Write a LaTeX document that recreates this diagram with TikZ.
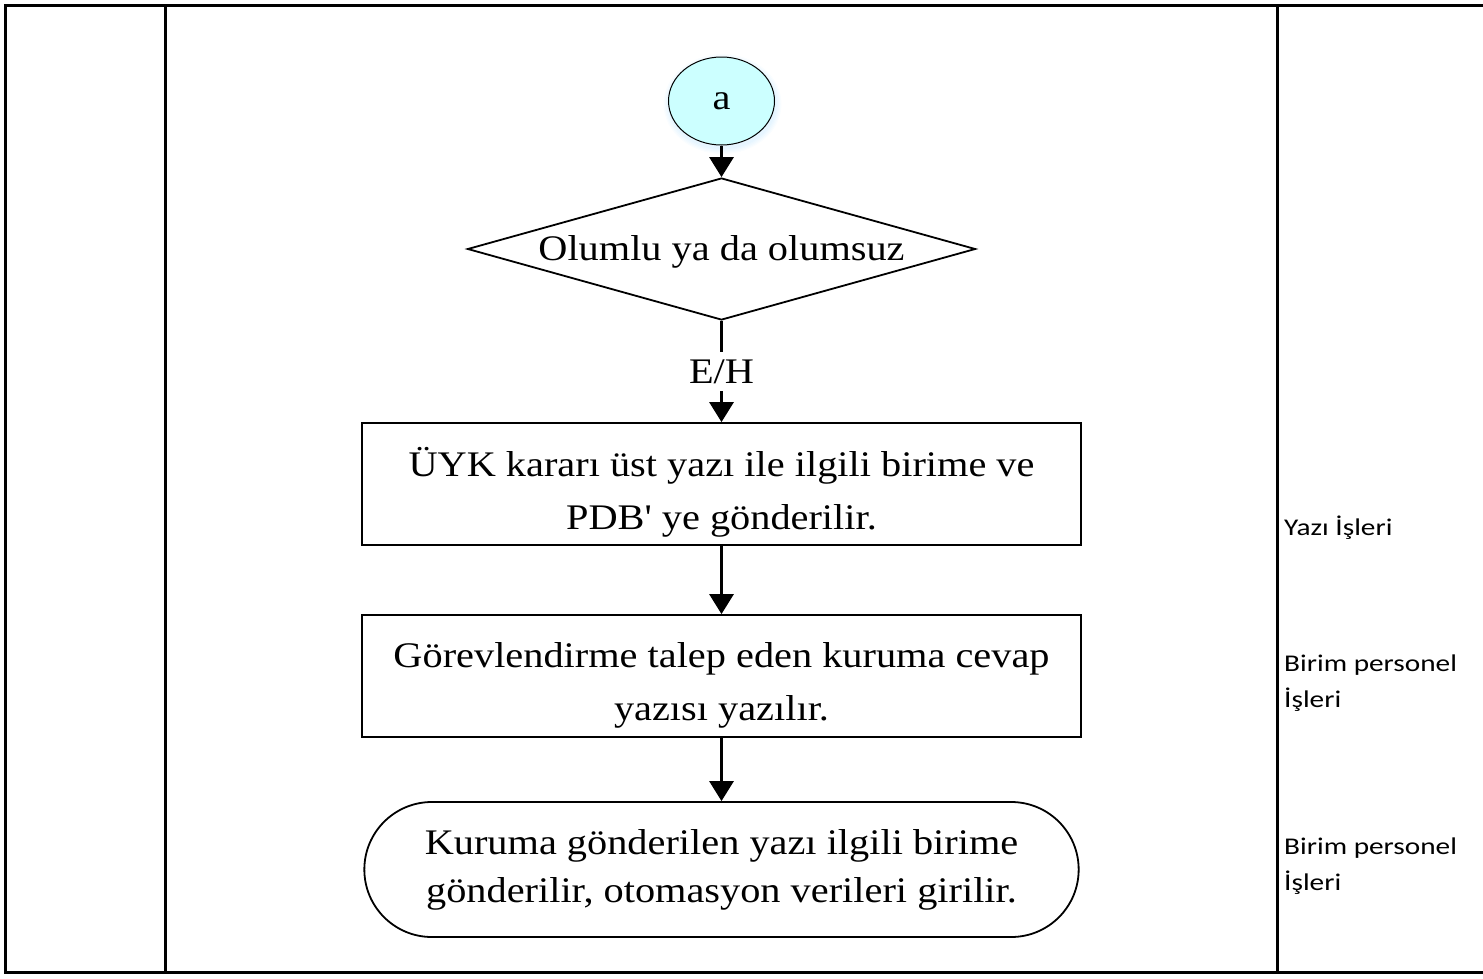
\documentclass[tikz,border=0pt]{standalone}
\usepackage{fontspec}
\setmainfont{Liberation Serif}[FakeStretch=1.12, Ligatures=TeXOff]
\newfontfamily\lanefont{Carlito}[FakeStretch=1.22]
\usetikzlibrary{arrows.meta,shapes.geometric,shapes.misc}
\definecolor{connectorfill}{HTML}{CCFFFF}
\tikzset{
  frame/.style={line width=3pt},
  flowfont/.style={font=\fontsize{36}{53}\selectfont},
  box/.style={draw, line width=1.8pt, minimum width=719pt, minimum height=122pt},
  boxtext/.style={align=center, inner sep=0pt, flowfont},
  arr/.style={line width=3pt, -{Triangle[width=24pt,length=20pt]}},
  lane/.style={anchor=north west, align=left, inner sep=0pt,
    font=\lanefont\fontsize{24}{36}\selectfont}
}
\begin{document}
\begin{tikzpicture}[x=1pt,y=-1pt]
\useasboundingbox (0,0) rectangle (1483,978);
% table frame
\draw[frame] (1483,5) -- (5,5) -- (5,972) -- (1483,972);
\draw[frame] (165,5) -- (165,972);
\draw[frame] (1277,5) -- (1277,972);
% soft glow under the connector
\foreach \k in {1,...,5}
  \fill[blue!40!cyan, opacity=0.02] (722.5,104) ellipse ({53+\k*1.2} and {44+\k*1.2});
% flow chart
\node[ellipse, draw, line width=1pt, fill=connectorfill, minimum width=106pt, minimum height=88pt,
  flowfont] (a) at (721.5,101) {a};
\node[diamond, draw, line width=1.8pt, aspect=3.58, minimum width=508pt, minimum height=142pt,
  inner sep=0pt] (d) at (721.5,249) {};
\node[flowfont, inner sep=0pt] (dt) at (721.5,252) {Olumlu ya da olumsuz};
\node[anchor=north, inner xsep=4pt, inner ysep=8pt, text height=23pt, text depth=0pt,
  flowfont] (eh) at (721.5,352) {E/H};
\node[box] (r1) at (721.5,484) {};
\node[boxtext] (r1t) at (721.5,492) {ÜYK kararı üst yazı ile ilgili birime ve\\PDB' ye gönderilir.};
\node[box] (r2) at (721.5,676) {};
\node[boxtext] (r2t) at (721.5,685) {Görevlendirme talep eden kuruma cevap\\yazısı yazılır.};
\node[box, rounded rectangle, minimum width=721pt, minimum height=135pt] (e) at (721.5,869.5) {};
\node[boxtext, font=\fontsize{36}{48}\selectfont] (et) at (721.5,870)
  {Kuruma gönderilen yazı ilgili birime\\gönderilir, otomasyon verileri girilir.};
\draw[arr] (a) -- (d);
\draw[line width=3pt] (d.south) -- (eh.north);
\draw[arr] (eh.south) -- (r1.north);
\draw[arr] (r1) -- (r2);
\draw[arr] (r2) -- (e);
% responsible units
\node[lane] (l1) at (1284,516) {Yazı İşleri};
\node[lane] (l2) at (1284,655) {Birim personel\\İşleri};
\node[lane] (l3) at (1284,838) {Birim personel\\İşleri};
\end{tikzpicture}
\end{document}
